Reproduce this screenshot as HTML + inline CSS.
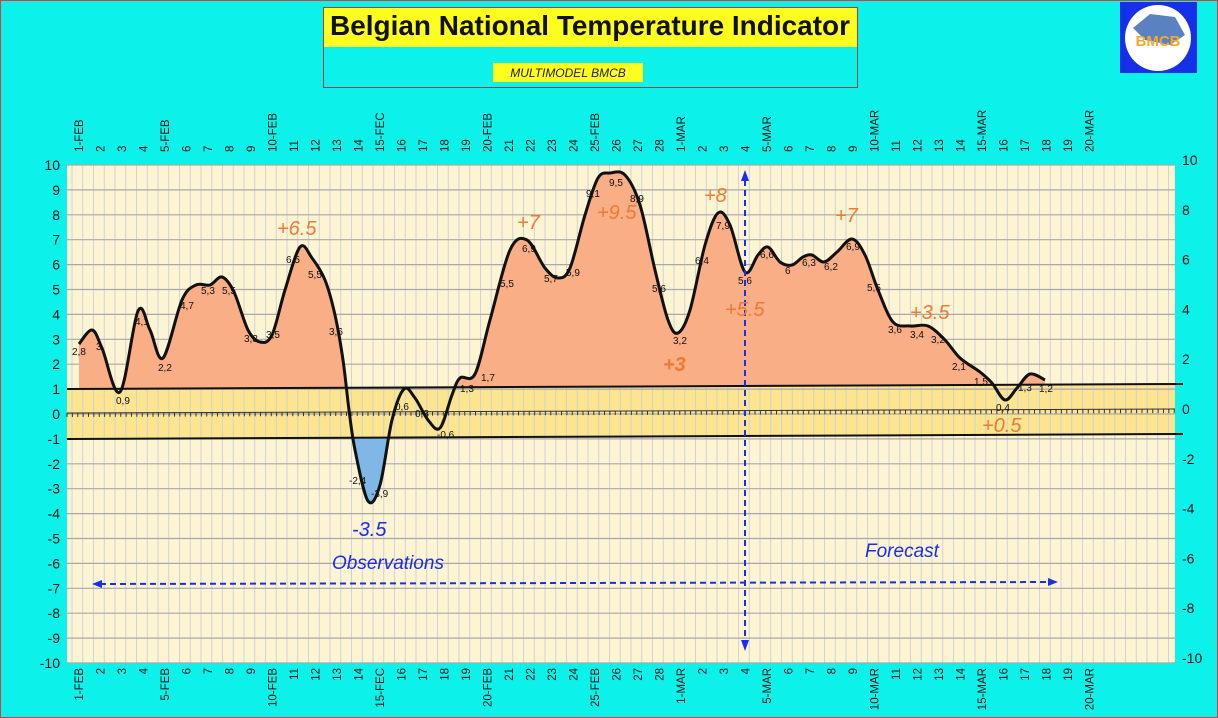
<!DOCTYPE html>
<html><head><meta charset="utf-8"><style>
html,body{margin:0;padding:0;background:#0cf2ea;}
svg{display:block}
</style></head><body>
<svg id="s" width="1218" height="718" xmlns="http://www.w3.org/2000/svg" font-family="Liberation Sans, sans-serif">
<rect x="0.5" y="0.5" width="1217" height="717" fill="#0cf2ea" stroke="#d04040"/>
<rect x="67" y="165" width="1108" height="498" fill="#fdf4d3"/>
<polygon points="67,389 1175,384 1175,434 67,439" fill="#fce58e"/>
<g id="grid"></g>
<defs>
<clipPath id="cUp"><polygon points="67,0 1175,0 1175,384 67,389"/></clipPath>
<clipPath id="cDn"><polygon points="67,439 1175,434 1175,718 67,718"/></clipPath>
</defs>
<path id="fo" fill="#f9ae86" clip-path="url(#cUp)"/>
<path id="fb" fill="#7fb8e6" clip-path="url(#cDn)"/>
<line x1="67" y1="389" x2="1183" y2="384" stroke="#111" stroke-width="2"/>
<line x1="67" y1="439" x2="1183" y2="434" stroke="#111" stroke-width="2"/>
<line x1="67" y1="413" x2="1175" y2="409" stroke="#333" stroke-width="1"/>
<g id="zt"></g>
<path id="cv" fill="none" stroke="#111" stroke-width="3"/>
<g id="lab"></g>
<g id="dl" font-size="10" fill="#111"></g>
<line x1="100" y1="584" x2="1050" y2="582" stroke="#1a2cf0" stroke-width="2" stroke-dasharray="6,4"/>
<polygon points="92,584 102,580 102,588" fill="#1a2cf0"/>
<polygon points="1058,582 1048,578 1048,586" fill="#1a2cf0"/>
<line x1="745" y1="180" x2="745" y2="642" stroke="#1a2cf0" stroke-width="2" stroke-dasharray="6,4"/>
<polygon points="745,170 741,181 749,181" fill="#1a2cf0"/>
<polygon points="745,651 741,640 749,640" fill="#1a2cf0"/>
<g font-style="italic" fill="#f07a30" font-size="20">
<text x="277" y="235">+6.5</text><text x="517" y="229">+7</text>
<text x="597" y="219">+9.5</text><text x="704" y="202">+8</text>
<text x="835" y="222">+7</text><text x="725" y="316">+5.5</text>
<text x="663" y="371" font-weight="bold">+3</text><text x="910" y="319">+3.5</text>
<text x="982" y="432">+0.5</text>
</g>
<g font-style="italic" fill="#1a2cf0">
<text x="352" y="536" font-size="20">-3.5</text>
<text x="332" y="569" font-size="19">Observations</text>
<text x="865" y="557" font-size="19">Forecast</text>
</g>
<rect x="323.5" y="7.5" width="534" height="80" fill="#0cf2ea" stroke="#a04040"/>
<rect x="324" y="8" width="533" height="39" fill="#fdfd20"/>
<text x="590" y="35" text-anchor="middle" font-size="28" font-weight="bold" fill="#111" textLength="520" lengthAdjust="spacingAndGlyphs">Belgian National Temperature Indicator</text>
<rect x="493" y="63" width="150" height="19" fill="#fdfd20"/>
<text x="568" y="77" text-anchor="middle" font-size="12" font-style="italic" fill="#222">MULTIMODEL BMCB</text>
<rect x="1120" y="2" width="77" height="71" fill="#1530e8"/>
<circle cx="1158" cy="38" r="33" fill="#fff"/>
<path d="M1133,28 L1150,14 L1175,17 L1185,35 L1170,45 L1145,40 Z" fill="#5a82c0"/>
<text x="1158" y="46" text-anchor="middle" font-size="15" font-weight="bold" fill="#f0a830">BMCB</text>
</svg>
<script>
const ns="http://www.w3.org/2000/svg";
function el(p,t,a,txt){const e=document.createElementNS(ns,t);for(const k in a)e.setAttribute(k,a[k]);if(txt!==undefined)e.textContent=txt;p.appendChild(e);return e;}
const g=document.getElementById('grid'),lab=document.getElementById('lab'),zt=document.getElementById('zt');
const X0=79,DX=21.5;
for(let x=67+5;x<1175;x+=10.75) el(g,'line',{x1:x,y1:165,x2:x,y2:663,stroke:'#d2d2d2','stroke-width':1});
for(let v=-10;v<=10;v++){const yl=414-24.9*v, yr=yl-5;
 el(g,'line',{x1:67,y1:yl,x2:1175,y2:yl,stroke:'#a8a8a8','stroke-width':1.2});
 el(lab,'text',{x:60,y:yl+5,'text-anchor':'end','font-size':14,fill:'#111'},String(v));
 if(v%2==0) el(lab,'text',{x:1182,y:yr+5,'font-size':14,fill:'#111'},String(v));}
for(let x=67;x<1175;x+=5.375){const y=413-(x-67)*4/1108;el(zt,'line',{x1:x,y1:y,x2:x,y2:y+4,stroke:'#333','stroke-width':1});}
for(let i=0;i<48;i++){const x=X0+i*DX;let d,s;
 if(i<28){d=i+1;s=(d==1||d%5==0)?(d==15?'15-FEC':d+'-FEB'):String(d);}else{d=i-27;s=(d==1||d%5==0)?d+'-MAR':String(d);}
 el(lab,'text',{x:0,y:0,transform:`translate(${x+4},152) rotate(-90)`,'font-size':11.5,fill:'#111'},s);
 el(lab,'text',{x:0,y:0,transform:`translate(${x+4},668) rotate(-90)`,'font-size':11.5,fill:'#111','text-anchor':'end'},s);}
const P=[[79,344],[92,330],[102,348],[120,392],[138,311],[150,330],[163,358],[182,300],[196,285],[210,285],[222,277],[234,292],[248,330],[260,342],[272,335],[285,290],[300,247],[312,258],[325,280],[335,315],[343,360],[349,410],[355,450],[368,501],[380,485],[392,420],[404,389],[415,398],[428,420],[440,428],[452,395],[460,378],[475,374],[490,320],[510,250],[527,240],[545,268],[558,278],[570,268],[585,215],[598,178],[610,173],[625,175],[640,205],[655,270],[668,320],[678,333],[690,310],[705,245],[718,213],[730,225],[745,272],[758,255],[768,247],[780,262],[792,265],[803,257],[812,255],[824,262],[837,252],[852,239],[865,255],[878,290],[893,322],[910,326],[928,326],[945,340],[960,358],[980,372],[992,383],[1005,400],[1017,388],[1030,374],[1045,380]];
function smooth(p){let d=`M${p[0][0]},${p[0][1]}`;for(let i=0;i<p.length-1;i++){const p0=p[i-1]||p[i],p1=p[i],p2=p[i+1],p3=p[i+2]||p2;
 d+=` C${p1[0]+(p2[0]-p0[0])/6},${p1[1]+(p2[1]-p0[1])/6} ${p2[0]-(p3[0]-p1[0])/6},${p2[1]-(p3[1]-p1[1])/6} ${p2[0]},${p2[1]}`;}return d;}
const d=smooth(P);
document.getElementById('cv').setAttribute('d',d);
document.getElementById('fo').setAttribute('d',d+' L1045,450 L79,450 Z');
document.getElementById('fb').setAttribute('d',d+' L1045,400 L79,400 Z');
const L=[[72,355,'2,8'],[96,350,'3'],[116,404,'0,9'],[135,325,'4,1'],[158,371,'2,2'],[180,309,'4,7'],[201,294,'5,3'],[222,294,'5,5'],[244,342,'3,3'],[266,338,'3,5'],[286,263,'6,5'],[308,278,'5,5'],[329,335,'3,6'],[349,484,'-2,4'],[371,497,'-3,9'],[395,410,'0,6'],[415,417,'0,3'],[437,438,'-0,6'],[460,392,'1,3'],[481,381,'1,7'],[500,287,'5,5'],[522,252,'6,9'],[544,282,'5,7'],[566,276,'5,9'],[586,197,'9,1'],[609,186,'9,5'],[630,202,'8,9'],[652,292,'5,6'],[673,344,'3,2'],[695,264,'6,4'],[716,229,'7,9'],[738,284,'5,6'],[760,258,'6,6'],[785,274,'6'],[802,266,'6,3'],[824,270,'6,2'],[846,250,'6,9'],[867,291,'5,5'],[888,333,'3,6'],[910,338,'3,4'],[931,343,'3,2'],[952,370,'2,1'],[974,385,'1,5'],[996,411,'0,4'],[1018,391,'1,3'],[1039,392,'1,2']];
const dl=document.getElementById('dl');L.forEach(a=>el(dl,'text',{x:a[0],y:a[1]},a[2]));
</script>
</body></html>
